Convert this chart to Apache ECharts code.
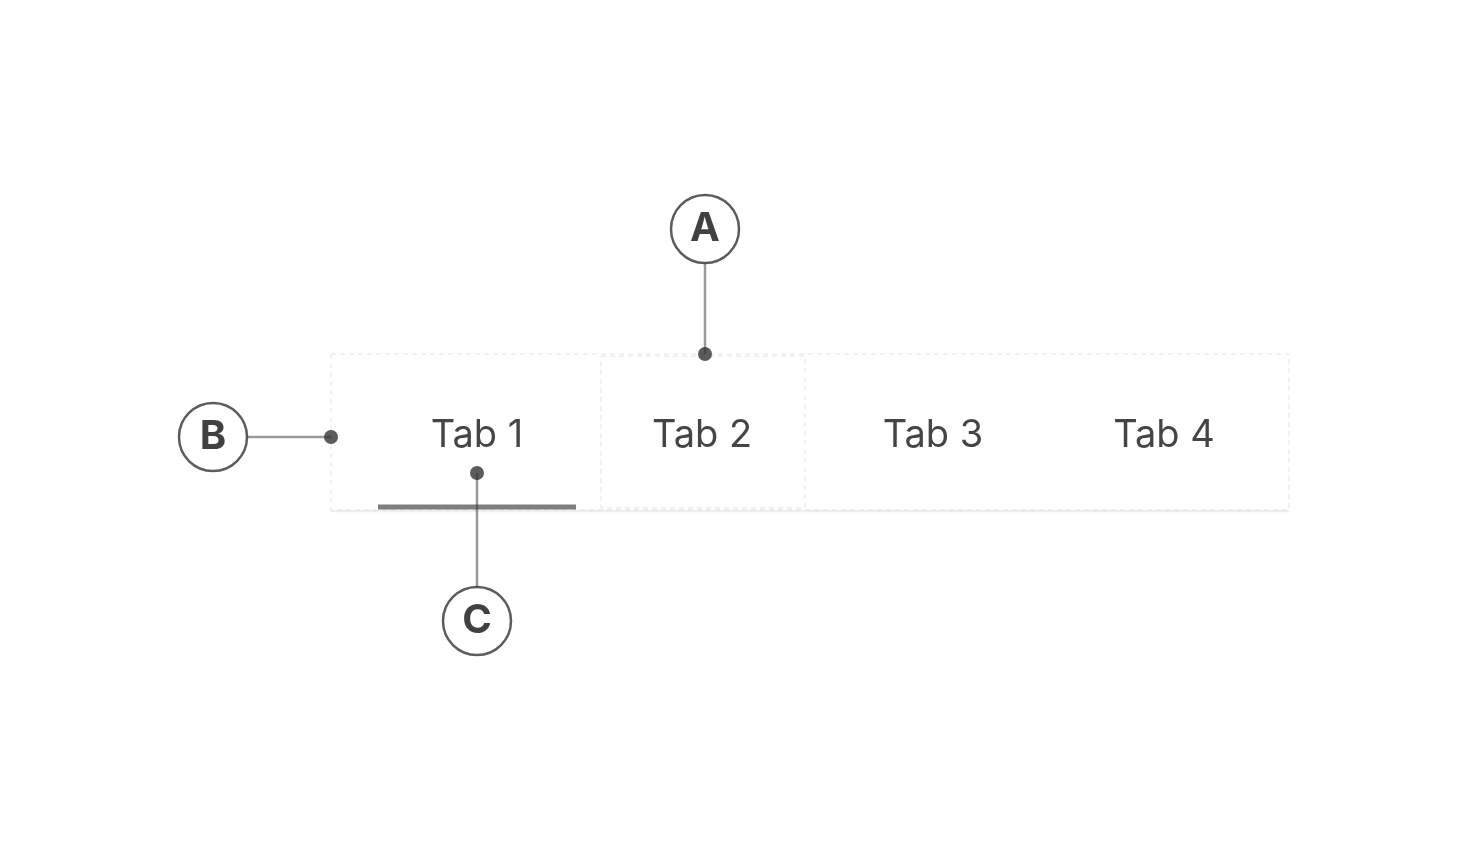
<!DOCTYPE html>
<html style="height: 100%">
<head>
    <meta charset="utf-8">
</head>
<body style="height: 100%; margin: 0; background: #fff">
<div id="container" style="height: 100%"></div>

<script type="text/javascript" src="https://cdn.jsdelivr.net/npm/echarts@6/dist/echarts.min.js"></script>

<script type="text/javascript">
    // diagram laid out on a hidden pixel-like grid (x 0..1467, y 0..849 top-down)
    var tabLabels = ['Tab 1', 'Tab 2', 'Tab 3', 'Tab 4'];
    var tabCenters = [[477, 436], [702, 436], [933, 436], [1164, 436]];

    var outerBox = [[331, 354], [1289, 354], [1289, 510], [331, 510], [331, 354]];
    var hoverBox = [[601, 356], [805, 356], [805, 508], [601, 508], [601, 356]];
    var baseLine = [[331, 511], [1289, 511]];
    var activeLine = [[378, 507], [576, 507]];

    var calloutNames = ['A', 'B', 'C'];
    var calloutCircles = [[705, 229], [213, 437], [477, 621]];
    var calloutDots = [[705, 354], [331, 437], [477, 473]];
    var calloutLeaders = [
        [[705, 263], [705, 354]],
        [[247, 437], [331, 437]],
        [[477, 587], [477, 473]]
    ];

    var myChart = echarts.init(document.getElementById('container'));
    var font = 'Inter, "Open Sans", "DejaVu Sans", sans-serif';

    var option = {
        animation: false,
        grid: { left: 0, right: 0, top: 0, bottom: 0 },
        xAxis: { type: 'value', min: 0, max: 1467, show: false },
        yAxis: { type: 'value', min: 0, max: 849, inverse: true, show: false },
        series: [
            {
                type: 'lines', coordinateSystem: 'cartesian2d', polyline: true,
                lineStyle: { color: '#dcdcdc', width: 1.5, type: [5, 4] },
                data: [{ coords: outerBox }, { coords: hoverBox }]
            },
            {
                type: 'lines', coordinateSystem: 'cartesian2d', polyline: true,
                lineStyle: { color: '#e0e0e0', width: 2.5 },
                data: [{ coords: baseLine }]
            },
            {
                type: 'lines', coordinateSystem: 'cartesian2d', polyline: true,
                lineStyle: { color: '#000', width: 5 },
                data: [{ coords: activeLine }]
            },
            {
                type: 'scatter', symbolSize: 0,
                label: {
                    show: true, position: 'inside', fontFamily: font,
                    fontSize: 38, color: '#161616',
                    formatter: function (p) { return tabLabels[p.dataIndex]; }
                },
                data: tabCenters
            },
            {
                type: 'lines', coordinateSystem: 'cartesian2d', polyline: true,
                lineStyle: { color: '#333', width: 2.5 },
                data: calloutLeaders.map(function (c) { return { coords: c }; })
            },
            {
                type: 'scatter', symbolSize: 14,
                itemStyle: { color: '#333' },
                data: calloutDots
            },
            {
                type: 'scatter', symbolSize: 68,
                itemStyle: { color: '#fff', borderColor: '#333', borderWidth: 2.5 },
                label: {
                    show: true, position: 'inside', fontFamily: font,
                    fontSize: 40, fontWeight: 'bold', color: '#111',
                    formatter: function (p) { return calloutNames[p.dataIndex]; }
                },
                data: calloutCircles
            }
        ]
    };

    myChart.setOption(option);
</script>
</body>
</html>
